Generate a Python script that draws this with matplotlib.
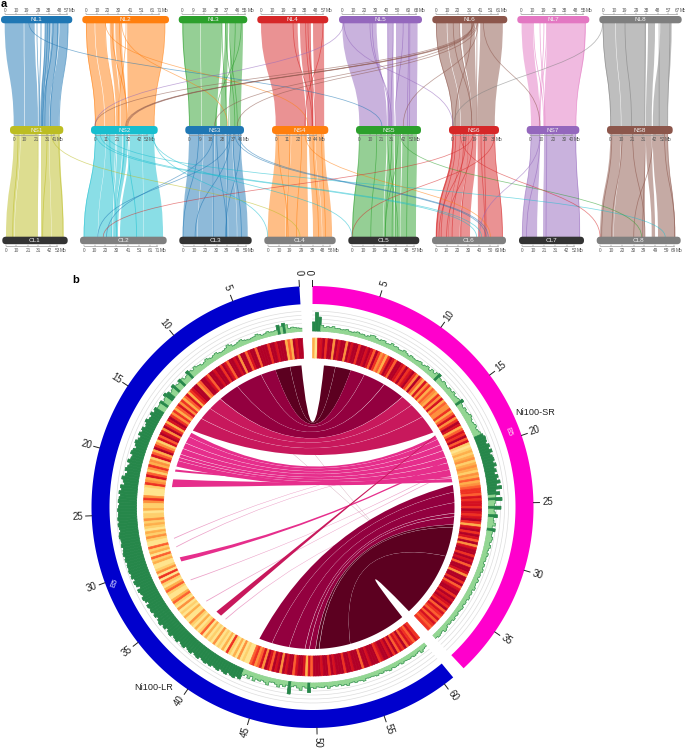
import numpy as np
import matplotlib
matplotlib.use("Agg")
import matplotlib.pyplot as plt
from matplotlib.path import Path
from matplotlib.patches import PathPatch, FancyBboxPatch, Polygon
from matplotlib.collections import PolyCollection

plt.rcParams['font.family'] = ['Liberation Sans', 'DejaVu Sans']

# ---------- panel a: data ----------
NL_names = ['NL1','NL2','NL3','NL4','NL5','NL6','NL7','NL8']
NS_names = ['NS1','NS2','NS3','NS4','NS5','NS6','NS7','NS8']
CL_names = ['CL1','CL2','CL3','CL4','CL5','CL6','CL7','CL8']
NL_ticks = [[0,10,19,29,38,48,57],[0,10,20,30,41,51,61,71],[0,9,18,28,37,46,55],[0,10,19,29,38,48,57],
            [0,10,20,30,40,50,60,68],[0,10,20,31,41,51,61],[0,10,19,29,38,48,55],[0,10,19,29,38,48,57,67]]
NS_ticks = [[0,10,21,31,41],[0,11,21,32,42,53],[0,9,18,28,37,46],[0,11,22,33,44],
            [0,10,21,31,42,52],[0,10,19,29,38],[0,10,20,30,40],[0,10,21,31,42,52]]
CL_ticks = [[0,10,21,31,42,53],[0,10,20,30,41,51,61,71],[0,10,20,30,39,49,59],[0,10,19,29,39,48,58],
            [0,10,19,29,38,48,57],[0,10,20,30,40,50,60],[0,10,21,31,42,52],[0,10,20,30,39,49,59,69]]

# synteny blocks: (top start, top end, bottom start, bottom end) in Mb
NL_NS_blocks = [
 [(0,16.5,0,10),(17,26,10.5,22.6),(31,32,23,24),(35,40,24.5,27),(40.5,47,27.2,33),(47.5,55,33.3,42)],
 [(0,8,0,9),(8.5,17.6,9.5,19),(22,26,20,24),(27,33,24.5,30),(38,73,31,56)],
 [(0,15,0,10),(15.4,33,10.4,23.2),(35.5,38,25.7,31),(39.6,50.5,34,43)],
 [(0,32,0,30),(34,43,31,37),(45.4,55,39,48)],
 [(0,31,0,26.4),(41,46,27,33),(48.5,68,35,55)],
 [(0,10,0,7),(10.5,22,7.4,17),(24,36,17.3,21),(41,62,21.5,37)],
 [(0.5,10.5,0.6,8.6),(22.7,56.7,12.2,40.6)],
 [(0,11,0,10),(11.4,37.6,10.4,32.6),(39.4,45.5,33.5,39),(50,60,40,54)],
]
NS_CL_blocks = [
 [(0,6,0,8),(6.3,22.6,8.3,29.6),(25.4,33,33.4,43),(33.3,43,43.3,55)],
 [(0,10,0,13),(10.3,19,13.3,26),(21,26,27,29),(26.5,31,29.5,31.5),(33,45,33.4,55),(45.3,56,55.3,73)],
 [(0,12,0,13),(12.3,21,13.3,26),(21.3,30,26.3,40),(30.3,36,40.3,48),(36.3,43,48.3,57.6)],
 [(0,15,0,15),(15.3,31,15.3,35),(33,39,39.3,47),(39.3,48,47.3,55.8)],
 [(0,26,0,27),(27,32,27.3,37),(34,40,37.3,42),(41,55,42.3,55.8)],
 [(0,7,0,12),(7.3,14,12.3,22),(14.3,21,22.3,31.4),(22,37,38.7,61.3)],
 [(0.6,8.6,0,14),(12.2,40.6,19.6,54.6)],
 [(0,10,0,12),(10.3,32.6,12.3,40),(33.5,39,46,49),(40,54,51.6,66.7)],
]
# thin inverted strands inside a chromosome pair: (top Mb, bottom Mb)
NL_NS_strands = [
 [(35,26),(37,27),(39,29),(46,34),(55,42.4),(28,24),(42,27)],
 [(0.3,0.3),(37,22),(31,30),(73,56),(24,31),(18,19)],
 [(49,22),(36,38),(44,33),(39,40),(33,31),(0.5,0.3)],
 [(28,36),(41,39),(54,29),(39,36.6),(43,37)],
 [(25,31),(27,29),(55,34),(41,27.5),(60,46),(61,48),(46,30)],
 [(16,17),(22,17),(33,2.4),(38,21),(0.3,0.3)],
 [(22.4,8.6),(56,40.6),(16.6,13),(11,12),(20,8)],
 [(0.3,0.4),(19.4,20),(37,32.6),(58.5,54),(49,46)],
]
NS_CL_strands = [
 [(4,6.4),(42,54.4),(31,35),(22.8,30)],
 [(0.3,0.3),(14,30.4),(31,48.6),(20,26),(28,29)],
 [(20,27),(32,39),(36.5,52),(34,11),(23,39),(43,38),(8,0.3)],
 [(2.4,17.7),(14,16.5),(37,44),(45.5,50),(25.7,25)],
 [(27,40),(31,29),(37,29),(35,37.7),(0,0.6),(16.6,16.4),(46.5,47.7),(33,35)],
 [(0.4,0.6),(3,5),(7,12),(10,15),(14,23),(18,10),(12,3),(37,61),(28,46),(25,45),(1,1)],
 [(14.6,22.5),(40.4,54.4),(0.6,0),(8.6,4)],
 [(1.4,1.5),(11,10.4),(21,40),(33,38),(54,66.5),(51,66.7),(40,30)],
]
# translocation links: (top chromosome, top Mb, bottom chromosome, bottom Mb)
NL_NS_links = [(0,21,4,21.5),(1,18,3,32),(1,33,2,32),(4,1,1,0),(4,1.5,5,0.5),(5,35,1,29),(5,36.5,1,30),
               (5,38,1,31),(5,34,2,21),(5,38.5,2,40),(5,44,6,8.6),(5,39,4,42),(7,0,5,1),(5,34.5,1,0)]
NS_CL_links = [(0,35,3,28),(1,1,5,37.4),(1,11,7,58),(1,55.4,3,0),(1,54,4,0),(2,41,5,48),(2,38,5,46),
               (2,34,1,13),(2,20,1,21),(3,29,5,50),(4,39,7,37),(5,37,4,0),(5,18,1,18),(5,7,7,0),
               (6,8.6,5,40),(1,5,5,42)]

# ---------- panel b: data ----------
blue_ticks = list(range(0,61,5))
pink_ticks = list(range(0,36,5))
bin_mb = 0.25
blue_hist = [
 15,18,22,25,20,40,50,35,45,22,18,20,25,18,15,22,28,20,18,15,
 18,22,30,25,20,18,28,35,25,20,18,22,30,26,20,25,32,24,20,28,
 30,38,28,35,45,30,25,36,42,30,34,48,36,30,42,52,38,32,45,40,
 40,50,42,55,44,48,60,50,45,58,52,62,48,55,65,58,50,62,68,55,
 60,72,58,66,75,62,70,84,74,68,85,78,90,82,88,92,86,90,94,90,
 92,95,90,96,92,88,94,98,92,90,95,88,92,96,90,94,88,92,90,94,
 88,92,80,90,85,70,88,82,76,86,80,68,84,78,82,74,80,70,78,84,
 72,78,66,74,80,68,72,76,64,70,74,62,68,72,60,66,70,58,64,68,
 62,66,56,60,64,52,58,62,50,56,60,48,54,30,22,35,20,38,25,30,
 22,28,38,20,18,25,36,22,30,20,62,24,18,28,38,20,26,48,22,28,
 20,22,25,18,30,22,20,24,18,26,22,30,20,18,24,20,22,28,18,20,
 18,20,24,18,22,16,20,26,18,22,20,16,24,18,20,22,18,24,20,16,30,22,18]
pink_hist = [
 45,92,70,30,20,25,22,28,20,22,18,20,24,18,16,20,24,18,20,15,
 20,28,30,22,18,24,26,18,20,30,22,25,18,20,28,22,16,24,20,18,
 22,26,18,24,30,20,32,24,35,40,26,22,30,24,20,28,24,32,22,26,
 30,42,26,22,30,24,28,36,30,24,28,34,26,32,38,45,52,50,44,56,
 48,60,46,54,58,50,62,48,56,44,60,50,66,46,70,40,58,36,68,34,
 30,62,28,34,45,26,30,38,24,40,28,26,34,30,24,32,26,22,30,24,
 26,20,28,24,30,22,26,20,28,22,24,30,20,26,22,28,20,24,18,26,
 22,18,24,20,26,18,22,16,24,30,18,22,26,20]
blue_heat = [
 8,8,7,8,3,5,3,8,8,8,7,8,8,6,8,8,8,8,5,8,
 8,7,5,8,8,4,8,7,8,8,5,7,8,6,8,8,7,8,8,5,
 7,8,8,5,4,8,8,7,6,3,7,5,3,6,4,7,5,3,6,4,
 6,8,7,3,6,8,4,7,8,5,7,2,4,6,8,3,5,7,2,4,
 3,6,4,2,5,7,3,4,6,2,1,1,1,4,6,4,2,2,3,1,
 2,2,4,2,3,2,1,3,2,4,2,1,1,5,2,3,1,5,2,3,
 1,1,2,4,1,6,1,5,2,1,3,5,2,1,1,3,5,2,1,4,
 1,2,1,3,1,1,4,2,1,3,1,2,5,1,3,1,2,1,4,1,
 2,1,3,1,6,2,1,3,1,4,1,2,1,1,5,6,4,5,7,4,
 8,7,5,8,7,8,4,8,7,8,8,5,7,8,8,7,3,7,5,8,
 8,8,7,8,8,6,8,7,8,8,8,6,8,8,7,8,8,8,5,8,
 8,7,8,8,8,6,7,8,8,7,8,6,8,5,7,6,8,5,7,6,5,7,6]
pink_heat = [
 3,1,7,7,8,6,8,8,4,8,7,8,8,4,8,7,8,8,6,8,
 8,7,8,7,5,8,6,4,5,3,6,8,7,5,8,8,7,6,8,6,
 7,8,6,4,8,5,3,7,4,6,3,5,4,3,6,4,7,3,5,4,
 4,6,3,5,7,4,6,8,7,3,5,7,6,8,5,7,2,1,2,3,
 2,3,4,2,3,4,3,2,4,3,5,3,4,5,6,6,5,7,6,7,
 7,6,8,7,6,7,8,6,3,7,8,6,8,7,5,8,4,7,8,8,
 6,8,7,8,5,8,8,7,4,8,8,6,8,5,7,8,8,6,8,7,
 8,7,6,8,5,7,6,5,7,5,7,6,5,6]

# chord ribbons: (blue start, blue end, magenta start, magenta end, tone) in Mb
cross_links = [(9.7,9.75,34,34.05,4),(5.5,5.55,34.6,34.65,4)]
top_links = [
 (0.3,1.6,1.3,2.6,0),(1.62,3.3,2.62,4.4,0),
 (3.3,5,4.4,6,1),(5.03,8,6.03,8.5,1),(8.03,10.4,8.55,11,1),
 (10.45,12,11.05,12.4,2),(12.03,13.5,12.43,14.2,2),(13.54,15.2,14.24,16.4,2)]
pink_links = [
 (15.5,16,16.9,17.3,3),(16.03,16.8,17.33,18,3),(16.85,17.5,18.05,18.7,3),(17.55,18.2,18.75,19.5,3),
 (18.25,18.6,19.55,20.2,3),(18.65,19,20.25,21,3),(19.03,19.7,21.03,21.8,3)]
strand_links = [
 (20.05,20.3,21.9,22.05,3),(21.2,22.1,22.1,22.5,3),
 (30.2,30.7,19.8,20.0,3),(37.7,38.4,16.8,16.9,2)]
pale_links = [(27.9,28,19.4,19.5,5),(28.9,29,20.3,20.4,5),(33,33.1,20.8,20.9,5),(36,36.1,21.3,21.4,5),(39,39.1,24.5,24.6,5)]
bottom_links = [
 (43.5,45,22.8,23.6,1),(45.03,47,23.63,24.8,1),(47.03,48.8,24.83,26,1),
 (48.85,49.3,26.05,26.4,1),(49.35,50,26.45,27.3,1),
 (50.05,50.4,27.33,27.6,0),(50.45,54,27.63,31,0),(54.02,60.7,31.02,38.6,0)]

# ---------- style and layout ----------
tab = ['#1f77b4','#ff7f0e','#2ca02c','#d62728','#9467bd','#8c564b','#e377c2','#7f7f7f','#bcbd22','#17becf']
NL_cols = [tab[i] for i in range(8)]
NS_cols = [tab[8],tab[9],tab[0],tab[1],tab[2],tab[3],tab[4],tab[5]]
CL_cols = ['#333333','#7f7f7f']*4
NL_bar = [(1,72.3),(82.3,169),(178.7,247.3),(257.3,328.3),(339,422),(432.3,507.3),(517.3,589.3),(599.3,681.7)]
NS_bar = [(10,63.3),(91,157.7),(185.3,244),(272,328.3),(356,421),(449,499),(526.7,579.3),(607,672.7)]
CL_bar = [(2.3,67.7),(80,166.7),(179.3,251.7),(264.3,335.7),(348.3,419.3),(432,506),(519,584),(596.7,680.7)]
NL_x0 = [4.7,86,182.3,261,342.3,436,521,602.7]
NL_s = [1.153,1.082,1.203,1.146,1.107,1.078,1.146,1.15]
NL_end = [66.7,159.3,245,323.3,416,498.3,583.3,677.3]
NS_x0 = [13.7,95,189,275.7,359.3,452.3,530.3,610.3]
NS_s = [1.075,1.056,1.207,1.01,1.048,1.149,1.125,1.063]
NS_end = [54.3,146.7,240.7,316,411.7,493.3,571.7,662.7]
CL_x0 = [6,83.7,182.7,267.7,352,435.7,522.3,600]
CL_s = [1.048,1.087,1.129,1.153,1.146,1.093,1.056,1.124]
CL_end = [57.3,157.3,245.7,330.3,414.3,497.7,574.3,673.7]

fig = plt.figure(figsize=(6.85,7.48), dpi=100)
ax = fig.add_axes([0,0,1,1])
ax.set_xlim(0,685); ax.set_ylim(748,0); ax.axis('off')

def ribbon(xa1,xa2,xb1,xb2,y0,y1,col):
    m = (y0+y1)/2
    v = [(xa1,y0),(xa1,m),(xb1,m),(xb1,y1),(xb2,y1),(xb2,m),(xa2,m),(xa2,y0),(xa1,y0)]
    c = [Path.MOVETO,Path.CURVE4,Path.CURVE4,Path.CURVE4,Path.LINETO,Path.CURVE4,Path.CURVE4,Path.CURVE4,Path.CLOSEPOLY]
    ax.add_patch(PathPatch(Path(v,c),fc=col,ec='none',alpha=0.5,zorder=2))

def curve(xa,xb,y0,y1,col,lw,alpha,z=3):
    m = (y0+y1)/2
    v = [(xa,y0),(xa,m),(xb,m),(xb,y1)]
    c = [Path.MOVETO,Path.CURVE4,Path.CURVE4,Path.CURVE4]
    ax.add_patch(PathPatch(Path(v,c),fc='none',ec=col,lw=lw,alpha=alpha,zorder=z))

def tier(top_x,top_s,bot_x,bot_s,cols,blocks,strands,links,y0,y1):
    for i in range(8):
        for a1,a2,b1,b2 in blocks[i]:
            ribbon(top_x[i]+a1*top_s[i],top_x[i]+a2*top_s[i],bot_x[i]+b1*bot_s[i],bot_x[i]+b2*bot_s[i],y0,y1,cols[i])
        for a,b in strands[i]:
            curve(top_x[i]+a*top_s[i],bot_x[i]+b*bot_s[i],y0,y1,cols[i],0.55,0.6)
    for ti,a,bi,b in links:
        curve(top_x[ti]+a*top_s[ti],bot_x[bi]+b*bot_s[bi],y0,y1,cols[ti],0.55,0.55,4)

tier(NL_x0,NL_s,NS_x0,NS_s,NL_cols,NL_NS_blocks,NL_NS_strands,NL_NS_links,23,126)
tier(NS_x0,NS_s,CL_x0,CL_s,NS_cols,NS_CL_blocks,NS_CL_strands,NS_CL_links,134,237)

def bars(names,extents,cols,y,h):
    for n,(a,b),c in zip(names,extents,cols):
        ax.add_patch(FancyBboxPatch((a,y),b-a,h,boxstyle='round,pad=0,rounding_size=3.6',fc=c,ec='none',zorder=6))
        ax.text((a+b)/2,y+h/2,n,color='#f0f0f0',fontsize=4.6,ha='center',va='center',zorder=7)

def axis_ticks(ticks,x0,s,end,y_axis,y_lab):
    for tl,x,sc,e in zip(ticks,x0,s,end):
        xs = [x+v*sc for v in tl[:-1]]+[e]
        ax.plot([xs[0],xs[-1]],[y_axis,y_axis],color='#999999',lw=0.5,zorder=5)
        for xv,v in zip(xs,tl):
            ax.plot([xv,xv],[y_axis-1.3,y_axis],color='#777777',lw=0.35,zorder=5)
            ax.text(xv,y_lab,str(v),fontsize=3.4,color='#555555',ha='center',va='center')
        ax.text(xs[-1]+2.2,y_lab,'Mb',fontsize=3.4,color='#555555',ha='left',va='center')

bars(NL_names,NL_bar,NL_cols,16,7.3)
bars(NS_names,NS_bar,NS_cols,126,8)
bars(CL_names,CL_bar,CL_cols,236.7,7.5)
axis_ticks(NL_ticks,NL_x0,NL_s,NL_end,14,10.6)
axis_ticks(NS_ticks,NS_x0,NS_s,NS_end,135.4,139.6)
axis_ticks(CL_ticks,CL_x0,CL_s,CL_end,246.4,250.7)

ax.text(1,4,'a',fontsize=8,fontweight='bold',ha='left',va='center',color='black')
ax.text(72,280,'b',fontsize=8,fontweight='bold',ha='left',va='center',color='black')

# ---------- panel b: drawing ----------
cx,cy = 312.5,507.0
deg_per_mb = 3.555
blue_zero = 356.6
R_out,R_in = 221,203
H_in,H_out = 176,196
M_out,M_in = 169,149
L_r = 142

def blue_t(m): return blue_zero-deg_per_mb*np.asarray(m,float)
def pink_t(m): return deg_per_mb*np.asarray(m,float)
def pol(t,r):
    a = np.radians(t)
    return cx+r*np.sin(a), cy-r*np.cos(a)
def sector(t0,t1,r0,r1,n=4):
    ts = np.linspace(t0,t1,n)
    xo,yo = pol(ts,r1); xi,yi = pol(ts[::-1],r0)
    return np.column_stack([np.r_[xo,xi],np.r_[yo,yi]])

ax.add_patch(Polygon(sector(blue_t(0),blue_t(60.8),R_in,R_out,200),fc='#0000cd',ec='none',zorder=2))
ax.add_patch(Polygon(sector(pink_t(0),pink_t(38.5),R_in,R_out,140),fc='#ff00cc',ec='none',zorder=2))

def tick_marks(ticks,tfun):
    for m in ticks:
        t = float(tfun(m))
        ax.plot(*zip(pol(t,R_out),pol(t,R_out+6)),color='#222222',lw=0.7,zorder=3)
        x,y = pol(t,R_out+14)
        rot = 90-t if t<180 else 270-t
        ax.text(x,y,str(m),rotation=rot,rotation_mode='anchor',fontsize=7,color='#222222',ha='center',va='center')
tick_marks(blue_ticks,blue_t)
tick_marks(pink_ticks,pink_t)

heat_cmap = plt.get_cmap('YlOrRd')
def track(hist,heat,tfun,dark_from):
    n = len(hist)
    edges = np.arange(n+1)*bin_mb
    for r in np.linspace(H_in,H_out,6):
        ts = tfun(np.linspace(0,edges[-1],200))
        ax.plot(*pol(ts,r),color='#dddddd',lw=0.5,zorder=2)
    polys,fc = [],[]
    step_t,step_r = [],[]
    for i,h in enumerate(hist):
        t0,t1 = float(tfun(edges[i])),float(tfun(edges[i+1]))
        r = H_in+h/100*(H_out-H_in)
        polys.append(sector(t0,t1,H_in,r,3))
        fc.append('#26874a' if h>=dark_from else '#92d692')
        step_t += [t0,t1]; step_r += [r,r]
    ax.add_collection(PolyCollection(polys,facecolors=fc,edgecolors=fc,linewidths=0.5,zorder=3))
    ax.plot(*pol(np.array(step_t),np.array(step_r)),color='#2f8a50',lw=0.4,zorder=4)
    hp,hc = [],[]
    for i,v in enumerate(heat):
        t0,t1 = float(tfun(edges[i])),float(tfun(edges[i+1]))
        hp.append(sector(t0,t1,M_in,M_out,3))
        hc.append(heat_cmap(0.08+v/9*0.92))
    ax.add_collection(PolyCollection(hp,facecolors=hc,edgecolors=hc,linewidths=0.5,zorder=3))
track(blue_hist,blue_heat,blue_t,42)
track(pink_hist,pink_heat,pink_t,40)

tones = ['#5c0020','#93003f','#c8185c','#e62e8c','#b56f88','#eca0c8']
def ctrl(ta,tb,k0,k1):
    va = np.array([np.sin(np.radians(ta)),np.cos(np.radians(ta))])
    vb = np.array([np.sin(np.radians(tb)),np.cos(np.radians(tb))])
    s = va+vb
    bis = s/np.linalg.norm(s)
    span = np.degrees(np.arccos(np.clip(va@vb,-1,1)))
    rc = L_r*max(k0-k1*span/180,0.02)
    return cx+rc*bis[0], cy-rc*bis[1]
def chord(b1,b2,m1,m2,tone,k0,k1,z):
    tb = blue_t(np.linspace(b1,b2,24)); tm = pink_t(np.linspace(m2,m1,24))
    xb,yb = pol(tb,L_r); xm,ym = pol(tm,L_r)
    v = list(zip(xb,yb)); c = [Path.MOVETO]+[Path.LINETO]*(len(v)-1)
    v += [ctrl(tb[-1],tm[0],k0,k1),(xm[0],ym[0])]; c += [Path.CURVE3,Path.CURVE3]
    v += list(zip(xm[1:],ym[1:])); c += [Path.LINETO]*(len(xm)-1)
    v += [ctrl(tm[-1],tb[0],k0,k1),(xb[0],yb[0])]; c += [Path.CURVE3,Path.CURVE3]
    ax.add_patch(PathPatch(Path(v,c),fc=tones[tone],ec='none',zorder=z))

for row in cross_links: chord(*row,0.2,0,3)
for row in pale_links: chord(*row,0.2,0,3.2)
for row in pink_links: chord(*row,0.06,0,3.3)
for row in strand_links: chord(*row,0.15,0,3.35)
for row in top_links: chord(*row,0.2,0,3.4)
for row in bottom_links: chord(*row,0.356,0.354,3.6)

ax.text(535,412.7,'Ni100-SR',fontsize=6.6,color='#222222',ha='center',va='center')
ax.text(154,687,'Ni100-LR',fontsize=6.6,color='#222222',ha='center',va='center')
ax.text(508,431.7,'B5',fontsize=5.5,color='#ffe0f6',rotation=-70,ha='center',va='center',zorder=5)
ax.text(115,583,'B5',fontsize=5.5,color='#dfe0ff',rotation=68,ha='center',va='center',zorder=5)

fig.savefig('out.png',dpi=100)
